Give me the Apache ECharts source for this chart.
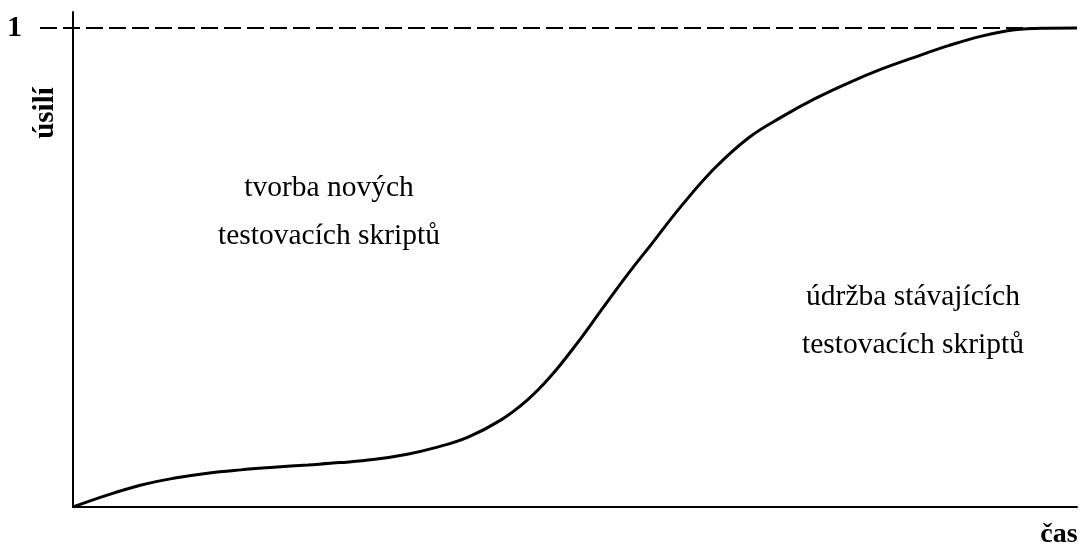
<!DOCTYPE html>
<html>
<head>
<meta charset="utf-8">
<script src="https://cdn.jsdelivr.net/npm/echarts@6/dist/echarts.min.js"></script>
<style>html,body{margin:0;padding:0;background:#fff}#c{width:1080px;height:544px}</style>
</head>
<body>
<div id="c"></div>
<script>
// time (0..100) and effort (0..1)
const timeValues = [0, 3.4, 6.7, 10.0, 13.4, 16.7, 20.0, 23.4, 26.6, 29.9, 33.3, 35.9, 39.3, 42.6, 45.3, 47.6, 50.3, 52.6, 55.3, 57.6, 60.6, 63.9, 67.3, 70.6, 73.9, 77.2, 80.5, 83.8, 87.2, 90.5, 93.8, 97.0, 100];
const effortValues = [0, 0.0248, 0.0455, 0.0599, 0.0706, 0.0775, 0.0829, 0.0879, 0.0927, 0.0990, 0.1102, 0.1228, 0.1455, 0.1814, 0.2242, 0.2733, 0.3443, 0.4104, 0.4871, 0.5484, 0.6286, 0.7071, 0.7710, 0.8144, 0.8524, 0.8850, 0.9140, 0.9388, 0.9631, 0.9831, 0.9962, 0.9996, 1.0];
const referenceLevel = 1;
const yTickLabels = ['1'];
const xAxisName = 'čas';
const yAxisName = 'úsilí';
const regionLabels = [['tvorba nových', 'testovacích skriptů'], ['údržba stávajících', 'testovacích skriptů']];

const FONT = '"Liberation Serif", "Times New Roman", serif';
const yMax = 1.0334;
const curve = timeValues.map((t, i) => [t, effortValues[i]]);

const chart = echarts.init(document.getElementById('c'), null, {renderer: 'canvas'});
chart.setOption({
  animation: false,
  backgroundColor: '#fff',
  grid: [
    {left: 73, right: 3, top: 12, bottom: 37},
    {left: 40, right: 3, top: 12, bottom: 37}
  ],
  xAxis: [
    {gridIndex: 0, type: 'value', min: 0, max: 100,
     axisLine: {show: true, onZero: false, lineStyle: {color: '#000', width: 2}},
     axisTick: {show: false}, axisLabel: {show: false}, splitLine: {show: false}},
    {gridIndex: 1, type: 'value', min: 0, max: 1, show: false}
  ],
  yAxis: [
    {gridIndex: 0, type: 'value', min: 0, max: yMax, interval: 1,
     axisLine: {show: true, onZero: false, lineStyle: {color: '#000', width: 2}},
     axisTick: {show: false}, splitLine: {show: false},
     axisLabel: {show: true, showMaxLabel: false, margin: 51,
       formatter: v => (v === referenceLevel ? yTickLabels[0] : ''),
       color: '#000', fontFamily: FONT, fontWeight: 'bold', fontSize: 30}},
    {gridIndex: 1, type: 'value', min: 0, max: yMax, show: false}
  ],
  series: [
    {type: 'line', xAxisIndex: 1, yAxisIndex: 1, data: [[0, referenceLevel], [1, referenceLevel]],
     symbol: 'none', silent: true, z: 1,
     lineStyle: {color: '#000', width: 2, type: [17, 6]}},
    {type: 'line', xAxisIndex: 0, yAxisIndex: 0, data: curve, smooth: 0.4,
     symbol: 'none', z: 3, lineStyle: {color: '#000', width: 3}}
  ],
  graphic: [
    {type: 'text', x: 46, y: 113, rotation: Math.PI / 2,
     style: {text: yAxisName, font: 'bold 29px ' + FONT, fill: '#000', textAlign: 'center', textVerticalAlign: 'middle'}},
    {type: 'text', x: 1059, y: 535,
     style: {text: xAxisName, font: 'bold 28px ' + FONT, fill: '#000', textAlign: 'center', textVerticalAlign: 'middle'}},
    {type: 'text', x: 329, y: 188,
     style: {text: regionLabels[0][0], font: '29.5px ' + FONT, fill: '#000', textAlign: 'center', textVerticalAlign: 'middle'}},
    {type: 'text', x: 329, y: 236,
     style: {text: regionLabels[0][1], font: '29.5px ' + FONT, fill: '#000', textAlign: 'center', textVerticalAlign: 'middle'}},
    {type: 'text', x: 913, y: 297,
     style: {text: regionLabels[1][0], font: '29.5px ' + FONT, fill: '#000', textAlign: 'center', textVerticalAlign: 'middle'}},
    {type: 'text', x: 913, y: 345,
     style: {text: regionLabels[1][1], font: '29.5px ' + FONT, fill: '#000', textAlign: 'center', textVerticalAlign: 'middle'}}
  ]
});
</script>
</body>
</html>
